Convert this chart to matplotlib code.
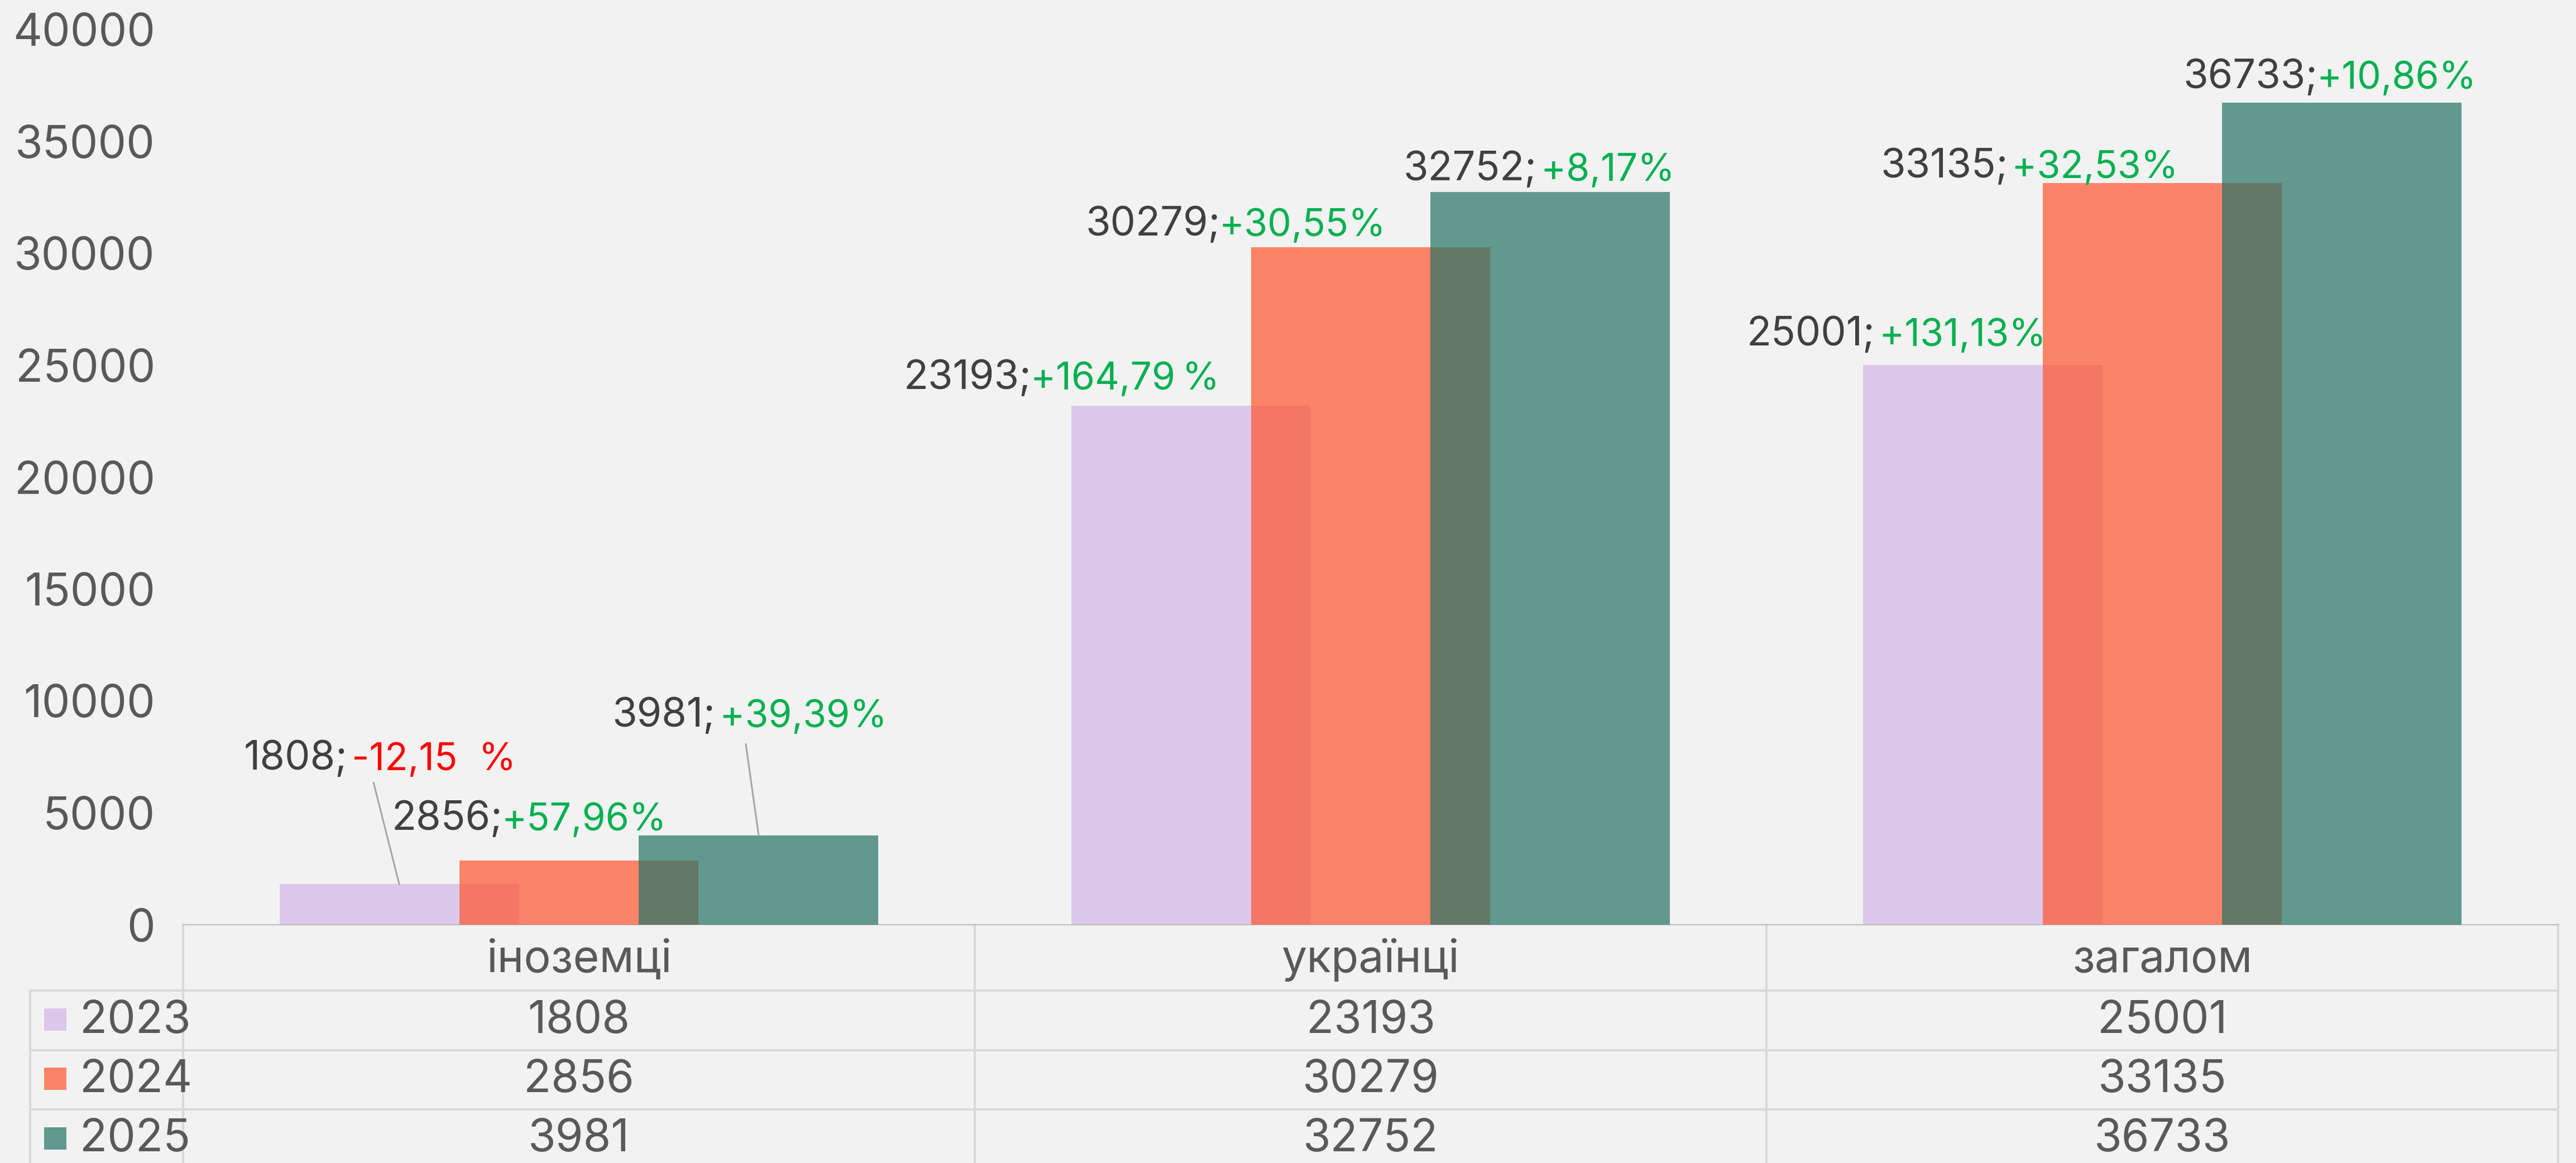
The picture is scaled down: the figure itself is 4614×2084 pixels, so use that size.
import numpy as np
import matplotlib
matplotlib.use('Agg')
import matplotlib.pyplot as plt

plt.rcParams['font.family'] = ['Inter', 'DejaVu Sans']

categories = ['іноземці', 'українці', 'загалом']
years = ['2023', '2024', '2025']
values_2023 = [1808, 23193, 25001]
values_2024 = [2856, 30279, 33135]
values_2025 = [3981, 32752, 36733]
pct_2023 = [' -12,15  %', '+164,79\u2009%', ' +131,13%']
pct_2024 = ['+57,96%', '+30,55%', ' +32,53%']
pct_2025 = [' +39,39%', ' +8,17%', '+10,86%']
yticks = [0, 5000, 10000, 15000, 20000, 25000, 30000, 35000, 40000]

series = [values_2023, values_2024, values_2025]
pcts = [pct_2023, pct_2024, pct_2025]
colors = ['#D3B7E7', '#FF552E', '#247365']

W, H = 4614, 2084
fig = plt.figure(figsize=(W / 100, H / 100), dpi=100, facecolor='#F2F2F2')
# plot area in pixels: x 328..4582, y 53..1657
ax = fig.add_axes([328 / W, 1 - 1657 / H, (4582 - 328) / W, (1657 - 53) / H])
ax.set_facecolor('#F2F2F2')

x = np.arange(len(categories))
width = 0.3025
step = 0.227
for i, vals in enumerate(series):
    ax.bar(x + (i - 1) * step, vals, width, color=colors[i], alpha=0.7,
           linewidth=0, zorder=2 + i)

ax.set_xlim(-0.5, 2.5)
ax.set_ylim(0, 40000)
ax.set_yticks(yticks)
ax.set_yticklabels([str(t) for t in yticks])
ax.set_xticks([])
ax.tick_params(axis='y', length=0, pad=36, labelsize=58, labelcolor='#595959')
for s in ['top', 'right', 'left']:
    ax.spines[s].set_visible(False)
ax.spines['bottom'].set_color('#BFBFBF')
ax.spines['bottom'].set_linewidth(1.5)

# data labels: offsets (pixels) from bar top centre to label start/baseline
label_off = [[(-278, 205), (-514, 30), (-422, 35)],
             [(-335, 55), (-511, 21), (-505, 10)],
             [(-262, 195), (-263, 21), (-284, 26)]]
leaders = {(0, 0): (-46, 182), (2, 0): (-23, 164)}

for i, vals in enumerate(series):
    for j, v in enumerate(vals):
        bx = x[j] + (i - 1) * step
        dx, dy = label_off[i][j]
        t1 = ax.annotate(f'{v};', xy=(bx, v), xytext=(dx, dy),
                         textcoords='offset pixels', ha='left', va='baseline',
                         color='#404040', fontsize=52, annotation_clip=False,
                         zorder=10)
        p = pcts[i][j]
        pc = '#FF0000' if p.strip().startswith('-') else '#00B050'
        gap = -12 if p.startswith(' ') else -2
        ax.annotate(p, xy=(1, 0), xycoords=t1, xytext=(gap, 0),
                    textcoords='offset pixels', ha='left', va='bottom',
                    color=pc, fontsize=49, zorder=10)
        if (i, j) in leaders:
            lx, ly = leaders[(i, j)]
            ax.annotate('', xy=(bx, v), xytext=(lx, ly), textcoords='offset pixels',
                        arrowprops=dict(arrowstyle='-', color='#A6A6A6', lw=2.2,
                                        shrinkA=0, shrinkB=0), zorder=9)

# data table below the plot
tr = ax.get_xaxis_transform()
ph = 1657 - 53
header_h = 118 / ph
row_h = 106.5 / ph
leg_left = (54 - 328) / 1418 - 0.5
line_kw = dict(color='#D9D9D9', lw=2.9, transform=tr, clip_on=False, zorder=1)

for k in range(len(years)):
    yl = -header_h - k * row_h
    ax.plot([leg_left, 2.5], [yl, yl], **line_kw)
for xb in [-0.5, 0.5, 1.5, 2.5]:
    ax.plot([xb, xb], [0, -0.4], **line_kw)
ax.plot([leg_left, leg_left], [-header_h, -0.4], **line_kw)

for j, c in enumerate(categories):
    ax.text(x[j], -header_h + 33 / ph, c, transform=tr, ha='center', va='baseline',
            fontsize=58, color='#595959')

for i, vals in enumerate(series):
    top = -header_h - i * row_h
    base = top - row_h + 31 / ph
    ax.plot([(98.5 - 328) / 1418 - 0.5], [top - 51.5 / ph], marker='s', ms=29.5,
            color=colors[i], alpha=0.7, mew=0, transform=tr, clip_on=False)
    ax.text((143 - 328) / 1418 - 0.5, base, years[i], transform=tr, ha='left',
            va='baseline', fontsize=58, color='#595959')
    for j, v in enumerate(vals):
        ax.text(x[j], base, str(v), transform=tr, ha='center', va='baseline',
                fontsize=58, color='#595959')

fig.savefig('out.png', dpi=100, facecolor='#F2F2F2')
